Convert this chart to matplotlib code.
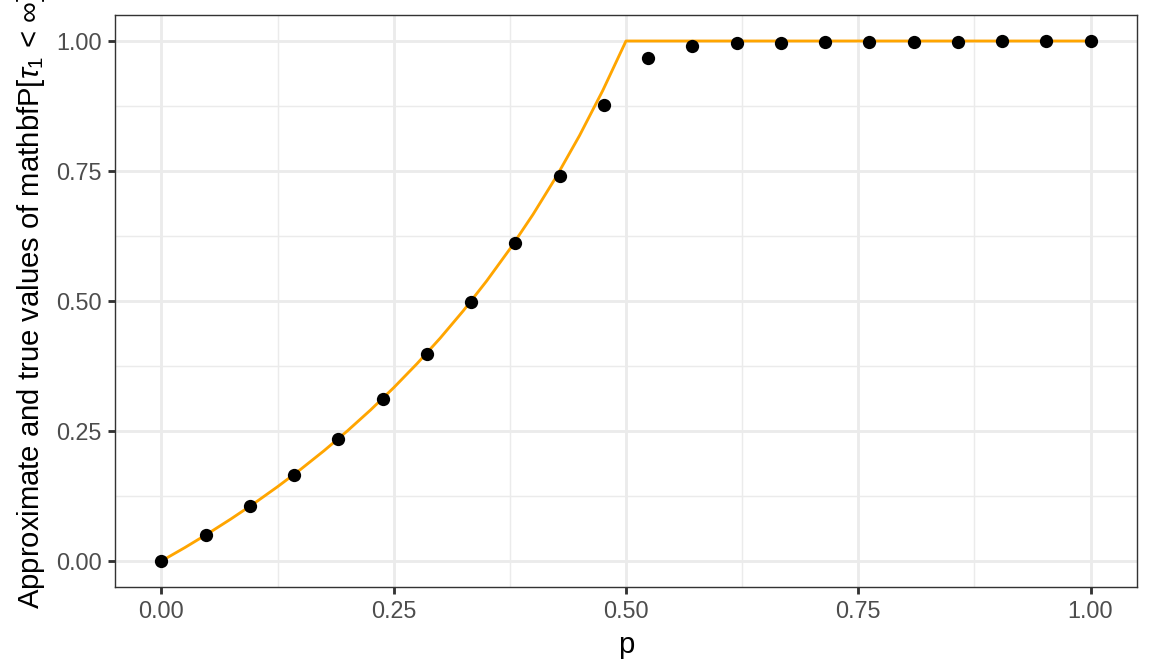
import matplotlib
matplotlib.use("Agg")
import matplotlib.pyplot as plt
from matplotlib.ticker import MultipleLocator

# Simulated estimates (black points)
p_points = [0.0, 0.0476, 0.0952, 0.1429, 0.1905, 0.2381, 0.2857, 0.3333, 0.3810, 0.4286, 0.4762,
            0.5238, 0.5714, 0.6190, 0.6667, 0.7143, 0.7619, 0.8095, 0.8571, 0.9048, 0.9524, 1.0]
approx_vals = [0.0, 0.050, 0.105, 0.166, 0.235, 0.312, 0.399, 0.499, 0.611, 0.740, 0.876,
               0.967, 0.990, 0.996, 0.997, 0.998, 0.999, 0.999, 0.999, 1.0, 1.0, 1.0]

# True value curve (orange line)
p_line = [0.0, 0.025, 0.05, 0.075, 0.1, 0.125, 0.15, 0.175, 0.2, 0.225, 0.25, 0.275, 0.3,
          0.325, 0.35, 0.375, 0.4, 0.425, 0.45, 0.475, 0.5, 1.0]
true_vals = [0.0, 0.0256, 0.0526, 0.0811, 0.1111, 0.1429, 0.1765, 0.2121, 0.25, 0.2903, 0.3333,
             0.3793, 0.4286, 0.4815, 0.5385, 0.6, 0.6667, 0.7391, 0.8182, 0.9048, 1.0, 1.0]

x_ticks = [0.0, 0.25, 0.5, 0.75, 1.0]
y_ticks = [0.0, 0.25, 0.5, 0.75, 1.0]

plt.rcParams.update({
    "font.family": ["Liberation Sans", "DejaVu Sans"],
    "mathtext.fontset": "custom",
    "mathtext.rm": "Liberation Sans",
    "mathtext.it": "Liberation Sans:italic",
})

k = 1.33  # overall scale of the ggplot theme sizes

fig = plt.figure(figsize=(8, 672 / 144), dpi=144)
ax = fig.add_axes([115 / 1152, 1 - 587 / 672, (1137 - 115) / 1152, (587 - 15) / 672])

ax.set_xlim(-0.05, 1.05)
ax.set_ylim(-0.05, 1.05)

# theme_bw grid
ax.xaxis.set_minor_locator(MultipleLocator(0.125))
ax.yaxis.set_minor_locator(MultipleLocator(0.125))
ax.grid(True, which="major", color="#EBEBEB", linewidth=1.07 * k)
ax.grid(True, which="minor", color="#EBEBEB", linewidth=0.53 * k)
ax.set_axisbelow(True)
ax.tick_params(which="minor", length=0)

ax.plot(p_line, true_vals, color="orange", linewidth=1.07 * k, zorder=2)
ax.scatter(p_points, approx_vals, s=44, color="black", linewidths=0, zorder=3)

ax.set_xticks(x_ticks)
ax.set_yticks(y_ticks)
ax.set_xticklabels([f"{v:.2f}" for v in x_ticks])
ax.set_yticklabels([f"{v:.2f}" for v in y_ticks])
ax.tick_params(which="major", length=2.75 * k, width=1.07 * k, color="#333333",
               labelcolor="#4D4D4D", labelsize=8.8 * k, pad=2.2 * k)

for s in ax.spines.values():
    s.set_color("#333333")
    s.set_linewidth(0.53 * k)

ax.set_xlabel("p", fontsize=11 * k, labelpad=4)
fig.text(31 / 1152, 1 - 301 / 672,
         r"Approximate and true values of mathbfP[$\tau_1$ < $\infty$]",
         rotation=90, fontsize=11 * k, ha="center", va="center")

fig.savefig("out.png", dpi=144)
